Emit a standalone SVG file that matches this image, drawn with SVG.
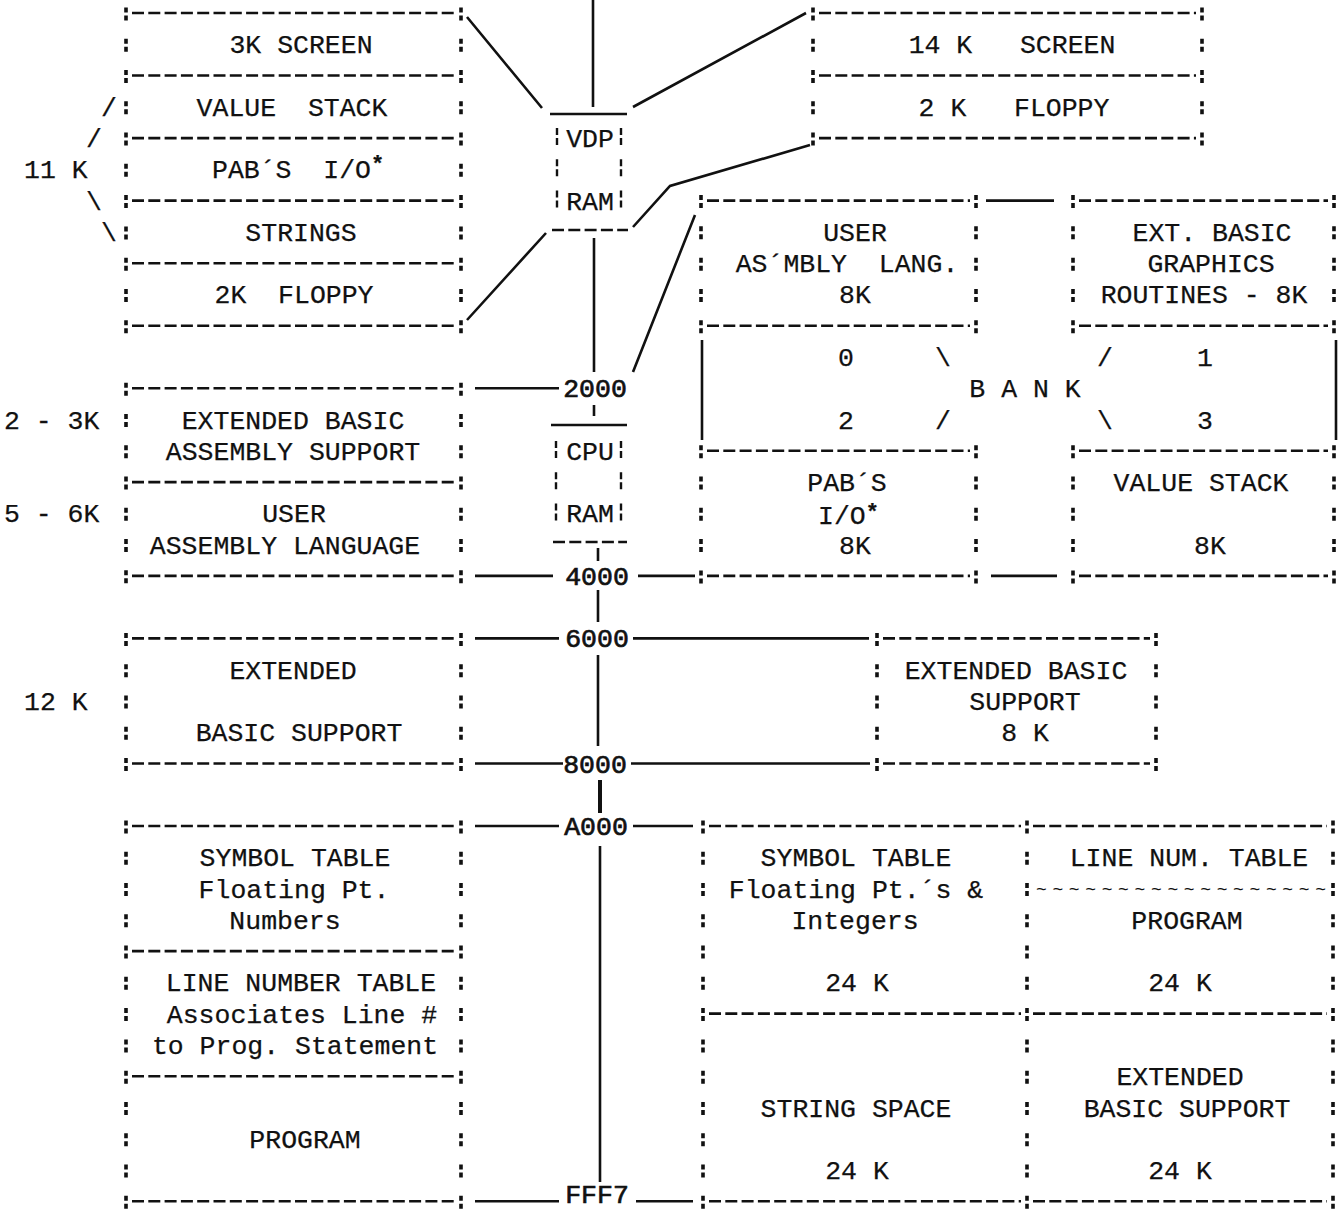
<svg xmlns="http://www.w3.org/2000/svg" width="1344" height="1210" viewBox="0 0 1344 1210" xml:space="preserve">
<style>
.t{font-family:"Liberation Mono","DejaVu Sans Mono",monospace;font-size:26.5px;fill:#111;stroke:#111;stroke-width:0.25;text-anchor:middle;white-space:pre}
.s{text-anchor:start}
.b{stroke-width:0.7}
.sup{font-size:22px;font-weight:bold}
.til{font-family:"Liberation Mono","DejaVu Sans Mono",monospace;font-size:18px;fill:#111}
.d{stroke:#111;stroke-width:2.6;stroke-dasharray:12 4.3;fill:none}
.col{stroke:#111;stroke-width:3.6;stroke-dasharray:5 3 5 18.27;fill:none}
.bar{stroke:#111;stroke-width:2.4;stroke-dasharray:7 3 7 14.27;fill:none}
.l{stroke:#111;stroke-width:2.6;fill:none}
</style>

<g id="connectors">
  <path class="l" d="M593 0V107M594 238V372M594 405V416M598 548V561M598 590V622M598 655V746M600 846V1182"/>
  <path class="l" style="stroke-width:4" d="M600 780V813"/>
  <path class="l" d="M475 388.2H559M475 575.9H553M638 575.9H695M475 638.4H559M633 638.4H869M475 763.5H563M631 763.5H870M475 826H559M633 826H693M475 1201.3H559M636 1201.3H693"/>
  <path class="l" d="M986 200.6H1054M991 575.9H1057"/>
  <path class="l" d="M467 17L542 108M633 107L806 13M546 233L467 320M633 227L670 186L810 145M695 215L633 372"/>
</g>

<g id="vdp-ram">
  <path class="l" d="M550 114H627"/>
  <path class="bar" d="M557 128V209M621 128V209"/>
  <text class="t" x="590" y="147.1">VDP</text>
  <text class="t" x="590" y="209.6">RAM</text>
  <path class="d" d="M552 230H628"/>
</g>

<g id="vdp-map-left">
  <path class="d" d="M132 13H455M132 75.5H455M132 138.1H455M132 200.6H455M132 263.2H455M132 325.7H455"/>
  <path class="col" d="M126 7.5V333.2M461 7.5V333.2"/>
  <text class="t" x="301" y="53.3">3K SCREEN</text>
  <text class="t" x="292" y="115.8">VALUE  STACK</text>
  <text class="t s" x="212" y="178.4">PAB´S  I/O<tspan class="sup" dy="-7">*</tspan></text>
  <text class="t" x="301" y="240.9">STRINGS</text>
  <text class="t" x="294" y="303.4">2K  FLOPPY</text>
</g>

<g id="size-11k">
  <text class="t" x="109" y="115.8">/</text>
  <text class="t" x="94" y="147.1">/</text>
  <text class="t s" x="24" y="178.4">11 K</text>
  <text class="t" x="94" y="209.6">\</text>
  <text class="t" x="109" y="240.9">\</text>
</g>

<g id="vdp-map-right">
  <path class="d" d="M819 13H1196M819 75.5H1196M819 138.1H1196"/>
  <path class="col" d="M813 7.5V145.6M1202 7.5V145.6"/>
  <text class="t" x="1012" y="53.3">14 K   SCREEN</text>
  <text class="t" x="1014" y="115.8">2 K   FLOPPY</text>
</g>

<g id="cpu-ram">
  <path class="l" d="M551 425H627"/>
  <path class="bar" d="M556 441V522M621 441V522"/>
  <text class="t" x="590" y="459.8">CPU</text>
  <text class="t" x="590" y="522.3">RAM</text>
  <path class="d" d="M553 542H627"/>
</g>

<g id="cpu-map-left">
  <path class="d" d="M132 388.2H455M132 482.1H455M132 575.9H455"/>
  <path class="col" d="M126 382.7V583.4M461 382.7V583.4"/>
  <text class="t" x="293" y="428.5">EXTENDED BASIC</text>
  <text class="t" x="293" y="459.8">ASSEMBLY SUPPORT</text>
  <text class="t" x="294" y="522.3">USER</text>
  <text class="t" x="285" y="553.6">ASSEMBLY LANGUAGE</text>
  <text class="t s" x="4" y="428.5">2 - 3K</text>
  <text class="t s" x="4" y="522.3">5 - 6K</text>
</g>

<g id="bank-map">
  <path class="d" d="M707 200.6H970M707 325.7H970M1079 200.6H1328M1079 325.7H1328"/>
  <path class="col" d="M701 195.1V333.2M976 195.1V333.2M1073 195.1V333.2M1334 195.1V333.2"/>
  <text class="t" x="855" y="240.9">USER</text>
  <text class="t" x="847" y="272.2">AS´MBLY  LANG.</text>
  <text class="t" x="855" y="303.4">8K</text>
  <text class="t" x="1212" y="240.9">EXT. BASIC</text>
  <text class="t" x="1211" y="272.2">GRAPHICS</text>
  <text class="t" x="1204" y="303.4">ROUTINES - 8K</text>
  <path class="l" d="M702 340V440M1336 340V440"/>
  <text class="t" x="846" y="366">0</text>
  <text class="t" x="943" y="366">\</text>
  <text class="t" x="1105" y="366">/</text>
  <text class="t" x="1205" y="366">1</text>
  <text class="t" x="1025" y="397.2">B A N K</text>
  <text class="t" x="846" y="428.5">2</text>
  <text class="t" x="943" y="428.5">/</text>
  <text class="t" x="1105" y="428.5">\</text>
  <text class="t" x="1205" y="428.5">3</text>
  <path class="d" d="M707 450.8H970M707 575.9H970M1079 450.8H1328M1079 575.9H1328"/>
  <path class="col" d="M701 445.3V583.4M976 445.3V583.4M1073 445.3V583.4M1334 445.3V583.4"/>
  <text class="t" x="847" y="491.1">PAB´S</text>
  <text class="t s" x="818" y="524">I/O<tspan class="sup" dy="-5">*</tspan></text>
  <text class="t" x="855" y="553.6">8K</text>
  <text class="t" x="1201" y="491.1">VALUE STACK</text>
  <text class="t" x="1210" y="553.6">8K</text>
</g>

<g id="ext-basic-left">
  <path class="d" d="M132 638.4H455M132 763.5H455"/>
  <path class="col" d="M126 632.9V771M461 632.9V771"/>
  <text class="t" x="293" y="678.7">EXTENDED</text>
  <text class="t" x="299" y="741.2">BASIC SUPPORT</text>
  <text class="t s" x="24" y="710">12 K</text>
</g>

<g id="ext-basic-right">
  <path class="d" d="M883 638.4H1150M883 763.5H1150"/>
  <path class="col" d="M877 632.9V771M1156 632.9V771"/>
  <text class="t" x="1016" y="678.7">EXTENDED BASIC</text>
  <text class="t" x="1025" y="710">SUPPORT</text>
  <text class="t" x="1025" y="741.2">8 K</text>
</g>

<g id="high-mem-left">
  <path class="d" d="M132 826H455M132 951.1H455M132 1076.2H455M132 1201.3H455"/>
  <path class="col" d="M126 820.5V1208.8M461 820.5V1208.8"/>
  <text class="t" x="295" y="866.3">SYMBOL TABLE</text>
  <text class="t" x="294" y="897.6">Floating Pt.</text>
  <text class="t" x="285" y="928.8">Numbers</text>
  <text class="t" x="301" y="991.4">LINE NUMBER TABLE</text>
  <text class="t" x="302" y="1022.6">Associates Line #</text>
  <text class="t" x="295" y="1053.9">to Prog. Statement</text>
  <text class="t" x="305" y="1147.7">PROGRAM</text>
</g>

<g id="high-mem-right">
  <path class="d" d="M709 826H1021M1033 826H1327M709 1013.6H1021M1033 1013.6H1327M709 1201.3H1021M1033 1201.3H1327"/>
  <path class="col" d="M703 820.5V1208.8M1027 820.5V1208.8M1333 820.5V1208.8"/>
  <text class="til" x="1036" y="895" textLength="290" lengthAdjust="spacing">~~~~~~~~~~~~~~~~~~</text>
  <text class="t" x="856" y="866.3">SYMBOL TABLE</text>
  <text class="t" x="1189" y="866.3">LINE NUM. TABLE</text>
  <text class="t" x="856" y="897.6">Floating Pt.´s &amp;</text>
  <text class="t" x="855" y="928.8">Integers</text>
  <text class="t" x="1187" y="928.8">PROGRAM</text>
  <text class="t" x="857" y="991.4">24 K</text>
  <text class="t" x="1180" y="991.4">24 K</text>
  <text class="t" x="1180" y="1085.2">EXTENDED</text>
  <text class="t" x="856" y="1116.5">STRING SPACE</text>
  <text class="t" x="1187" y="1116.5">BASIC SUPPORT</text>
  <text class="t" x="857" y="1179">24 K</text>
  <text class="t" x="1180" y="1179">24 K</text>
</g>

<g id="addresses">
  <text class="t b" x="595" y="397.2">2000</text>
  <text class="t b" x="597" y="584.9">4000</text>
  <text class="t b" x="597" y="647.4">6000</text>
  <text class="t b" x="595" y="772.5">8000</text>
  <text class="t b" x="596" y="835">A000</text>
  <text class="t b" x="597" y="1203">FFF7</text>
</g>
</svg>
